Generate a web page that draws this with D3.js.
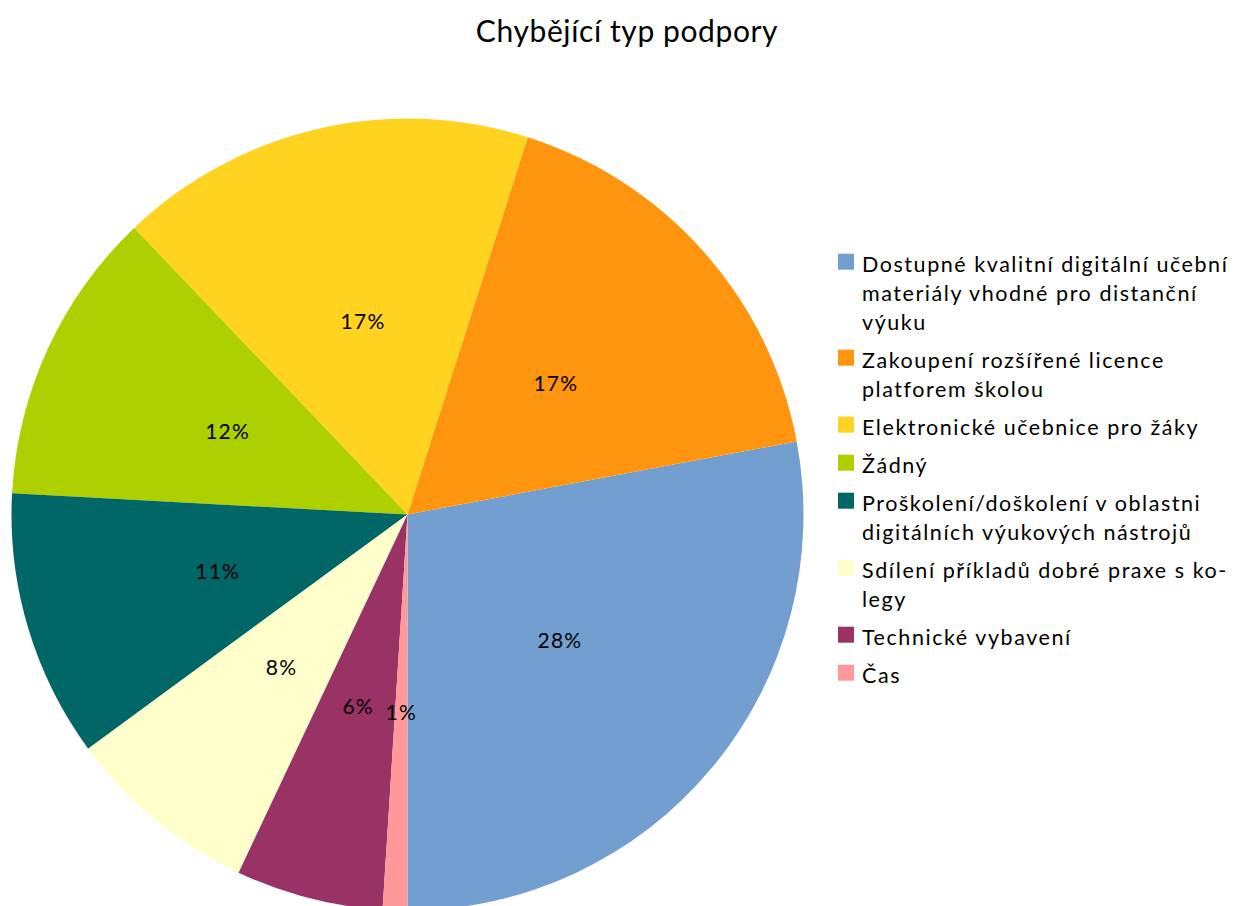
<!DOCTYPE html>
<html>
<head>
<meta charset="utf-8">
<script src="https://cdn.jsdelivr.net/npm/d3@7"></script>
<style>
  html, body { margin: 0; padding: 0; background: #ffffff; }
  svg { display: block; font-family: Lato, "Open Sans", sans-serif; }
</style>
</head>
<body>
<svg id="chart" width="1235" height="906"></svg>
<script>
const title = "Chybějící typ podpory";
const categories = [
  "Dostupné kvalitní digitální učební materiály vhodné pro distanční výuku",
  "Zakoupení rozšířené licence platforem školou",
  "Elektronické učebnice pro žáky",
  "Žádný",
  "Proškolení/doškolení v oblastni digitálních výukových nástrojů",
  "Sdílení příkladů dobré praxe s kolegy",
  "Technické vybavení",
  "Čas"
];
const legendLines = [
  ["Dostupné kvalitní digitální učební", "materiály vhodné pro distanční", "výuku"],
  ["Zakoupení rozšířené licence", "platforem školou"],
  ["Elektronické učebnice pro žáky"],
  ["Žádný"],
  ["Proškolení/doškolení v oblastni", "digitálních výukových nástrojů"],
  ["Sdílení příkladů dobré praxe s ko-", "legy"],
  ["Technické vybavení"],
  ["Čas"]
];
const values = [27.9, 17.1, 17.0, 12.0, 10.9, 7.9, 6.0, 1.0];
const colors = ["#729fcf", "#ff950e", "#ffd320", "#aecf00", "#006666", "#ffffcc", "#993366", "#ff9999"];

const svg = d3.select("#chart");
const cx = 407.5, cy = 514.5, r = 396;

svg.append("text")
  .attr("x", 627).attr("y", 42)
  .attr("text-anchor", "middle")
  .attr("font-size", 30)
  .attr("letter-spacing", 0.6)
  .attr("fill", "#000")
  .text(title);

const total = d3.sum(values);
const data = categories.map((c, i) => ({ name: c, value: values[i], color: colors[i], lines: legendLines[i] }));

const pie = d3.pie().value(d => d.value).sort(null)
  .startAngle(Math.PI).endAngle(-Math.PI);
const arcs = pie(data);
const arc = d3.arc().innerRadius(0).outerRadius(r);

const g = svg.append("g").attr("transform", `translate(${cx},${cy})`);
g.selectAll("path.slice").data(arcs).enter().append("path")
  .attr("class", "slice")
  .attr("d", arc)
  .attr("fill", d => d.data.color);

g.selectAll("text.lbl").data(arcs).enter().append("text")
  .attr("class", "lbl")
  .attr("transform", d => `translate(${arc.centroid(d)})`)
  .attr("text-anchor", "middle")
  .attr("dy", "0.36em")
  .attr("font-size", 21)
  .attr("letter-spacing", 1.2)
  .attr("fill", "#000")
  .text(d => Math.round(d.data.value / total * 100) + "%");

// Legend
const lineH = 29, entryGap = 9;
const lg = svg.append("g");
let y = 271.7;
data.forEach(d => {
  lg.append("rect")
    .attr("x", 838).attr("y", y - 18)
    .attr("width", 16).attr("height", 16)
    .attr("fill", d.color);
  d.lines.forEach((ln, j) => {
    lg.append("text")
      .attr("x", 862).attr("y", y + j * lineH)
      .attr("font-size", 21.5)
      .attr("letter-spacing", 1.55)
      .attr("fill", "#000")
      .text(ln);
  });
  y += d.lines.length * lineH + entryGap;
});
</script>
</body>
</html>
